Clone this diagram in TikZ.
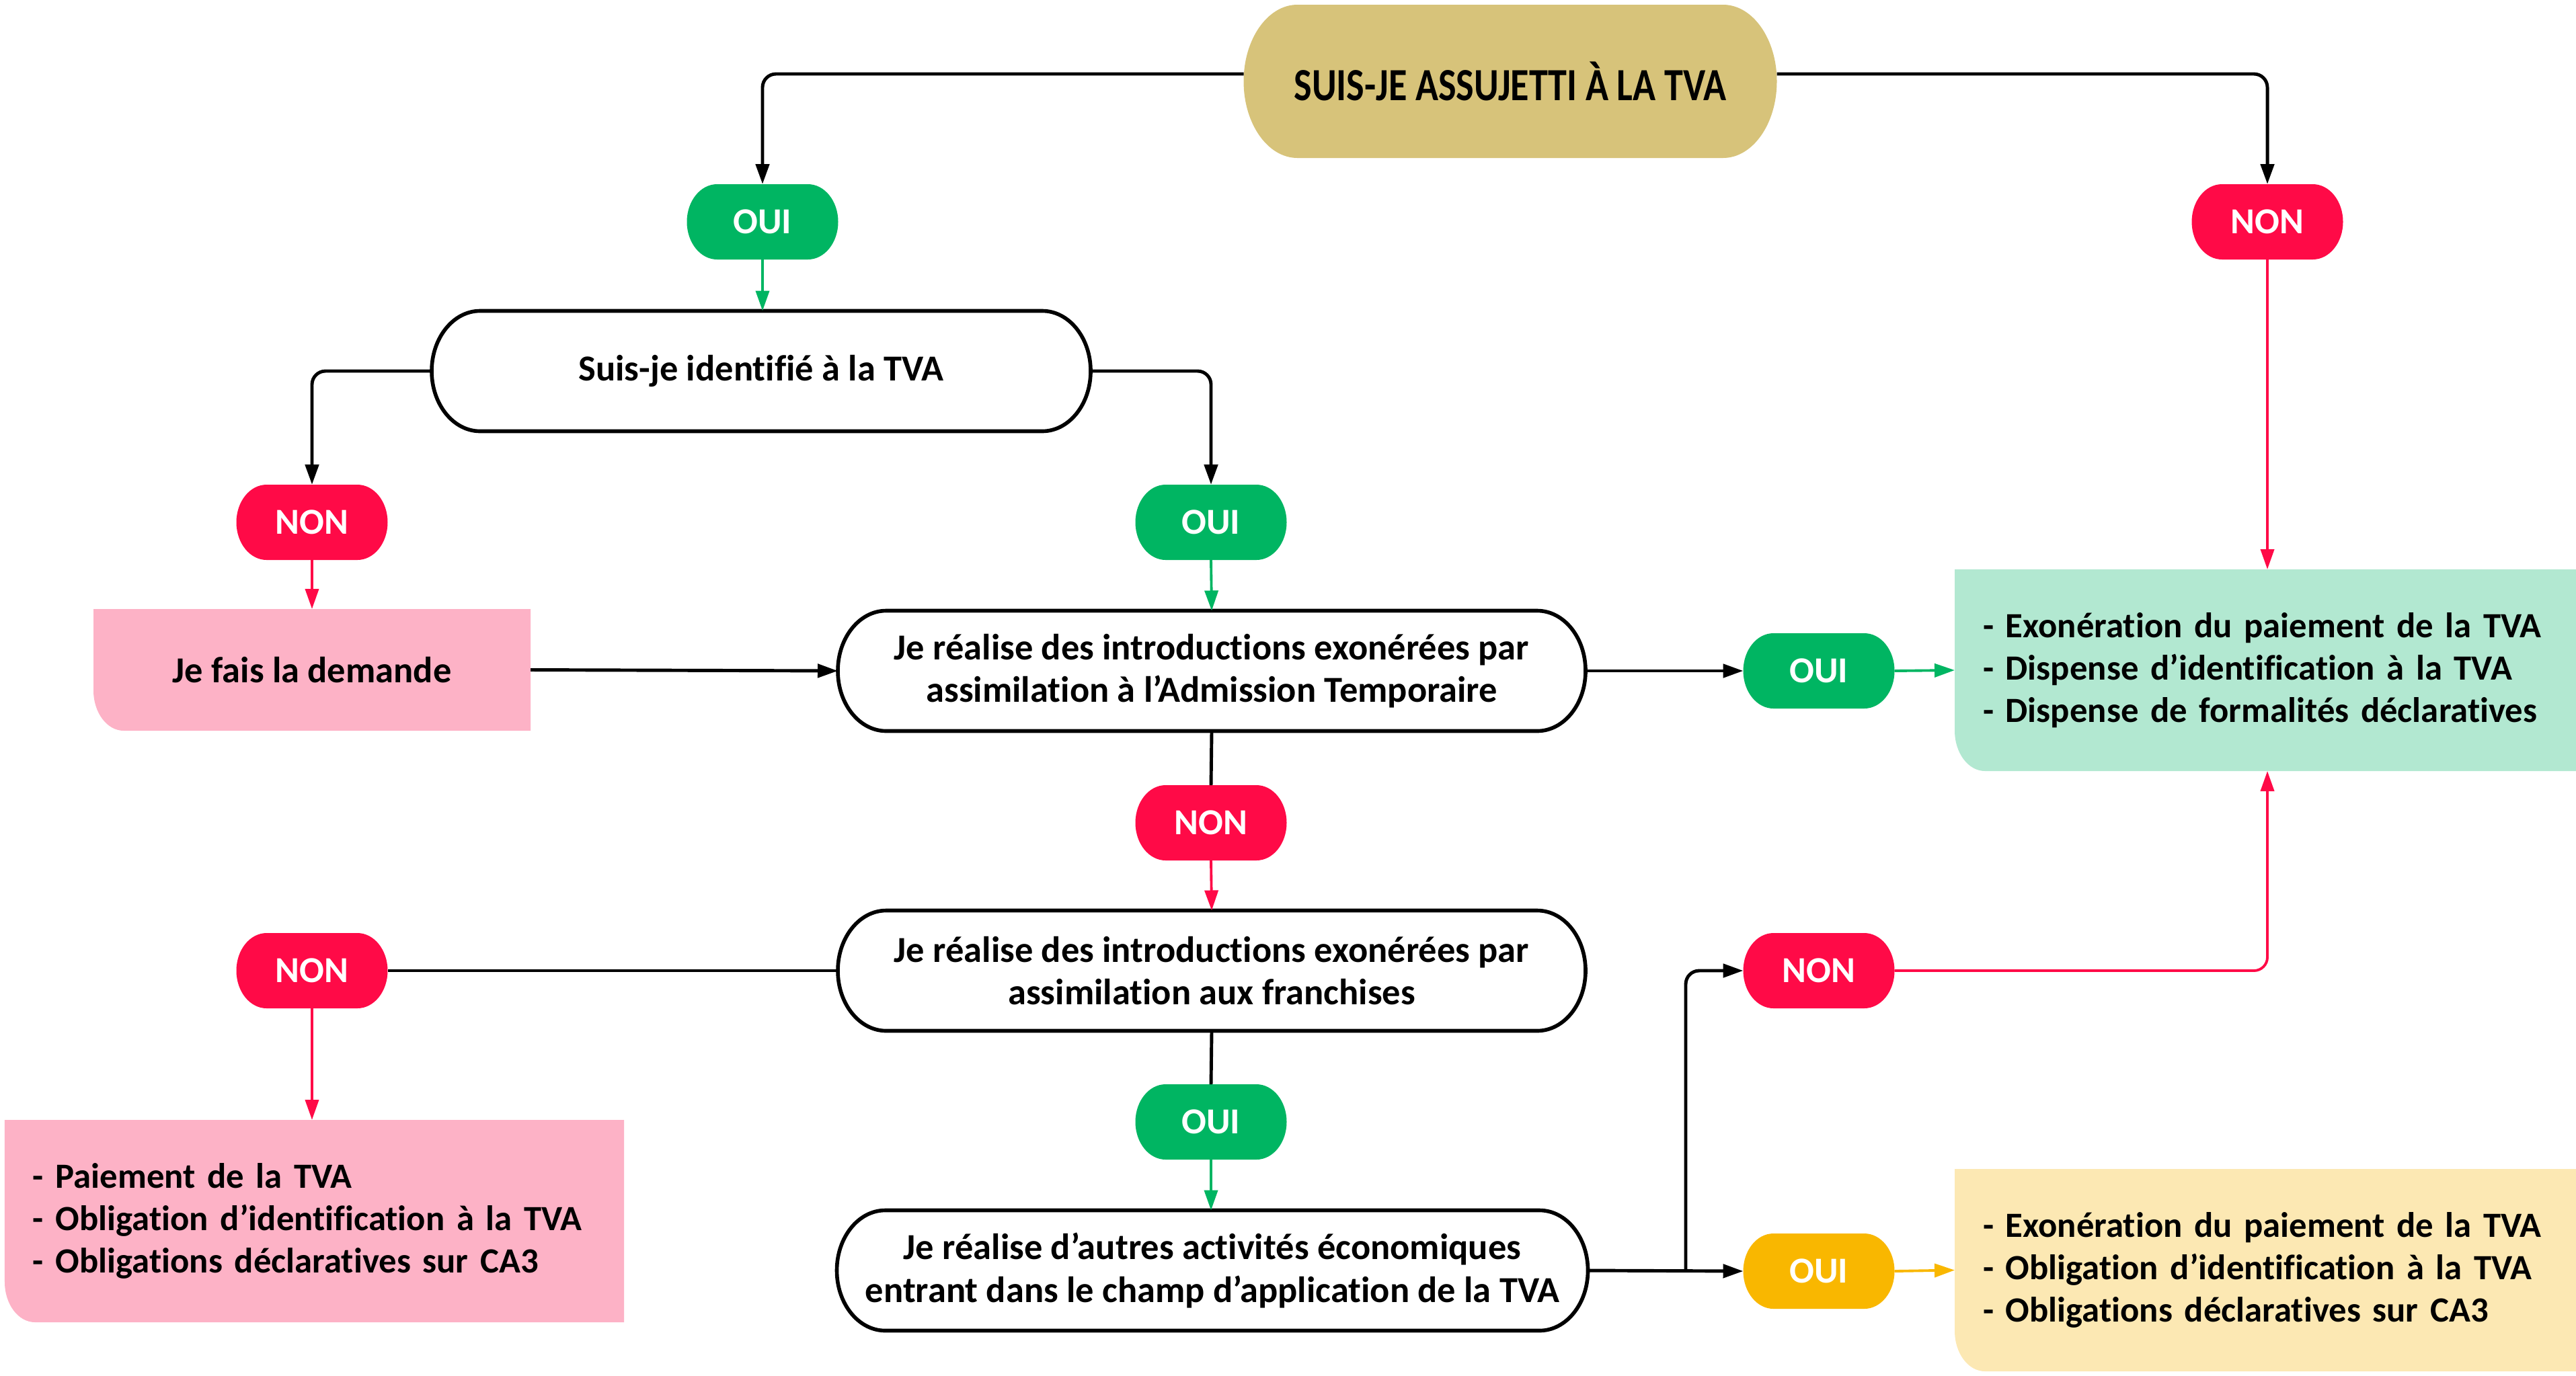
\documentclass[tikz,border=0pt]{standalone}
\usepackage{fontspec}
\setmainfont{Carlito}[Ligatures=NoCommon]
\newfontfamily\condfont{Carlito}[FakeStretch=0.82,Ligatures=NoCommon]
\usetikzlibrary{arrows.meta,calc,backgrounds}

\definecolor{tanbg}{HTML}{D7C37A}
\definecolor{okgreen}{HTML}{00B562}
\definecolor{nored}{HTML}{FF0A47}
\definecolor{pinkbg}{HTML}{FDB2C6}
\definecolor{mintbg}{HTML}{B2E8D1}
\definecolor{amber}{HTML}{F9B700}
\definecolor{creambg}{HTML}{FCE8B3}

% pill outline with elliptical ends around a node: style, node, end radius
\newcommand\pillbg[3]{%
  \path[#1] let \p1=(#2.north east), \p2=(#2.south west), \n1={(\y1-\y2)/2} in
    (\x2+#3,\y1) -- (\x1-#3,\y1)
    arc[start angle=90,end angle=-90,x radius=#3,y radius=\n1]
    -- (\x2+#3,\y2)
    arc[start angle=270,end angle=90,x radius=#3,y radius=\n1] -- cycle;}
% box with only its lower left corner rounded: style, node
\newcommand\cornerbg[2]{%
  \path[#1] let \p1=(#2.north east), \p2=(#2.south west) in
    (\x2,\y1) -- (\x1,\y1) -- (\x1,\y2) -- (\x2+0.45cm,\y2)
    arc[start angle=270,end angle=180,x radius=0.45cm,y radius=0.6cm] -- cycle;}

\tikzset{
  base/.style={font=\fontsize{15.5}{18}\selectfont\bfseries, inner sep=0pt,
    outer sep=0pt, align=center},
  question/.style={base, minimum height=1.79cm},
  badge/.style={base, text=white, minimum width=2.25cm, minimum height=1.12cm},
  listbox/.style={base, font=\fontsize{15}{18}\selectfont\bfseries, align=left,
    inner xsep=0pt, text width=9.2cm, minimum height=3cm,
    execute at begin node={\leftskip=0.42cm\hyphenpenalty=10000\exhyphenpenalty=10000\relax}},
  conn/.style={line width=1.4pt, -{Triangle[length=0.3cm,width=0.2cm]},
    rounded corners=0.2cm},
  plain/.style={line width=1.4pt, rounded corners=0.2cm},
  gconn/.style={conn, line width=1.1pt, okgreen},
  rconn/.style={conn, line width=1.1pt, nored},
  yconn/.style={conn, line width=1.1pt, amber},
  outline/.style={draw=black, line width=1.6pt, fill=white},
}

\begin{document}
\begin{tikzpicture}
\useasboundingbox (0,0) rectangle (38.31,-20.46);

% decision boxes
\node[base, minimum width=7.93cm, minimum height=2.28cm, font=\fontsize{19.5}{22}\selectfont\condfont\bfseries]
  (top) at (22.46,-1.21) {SUIS-JE ASSUJETTI À LA TVA};
\node[question, minimum width=9.80cm] (q2) at (11.32,-5.52) {Suis-je identifié à la TVA};
\node[question, minimum width=11.12cm] (q3) at (18.02,-9.98)
  {Je réalise des introductions exonérées par\\assimilation à l’Admission Temporaire};
\node[question, minimum width=11.12cm] (q4) at (18.02,-14.44)
  {Je réalise des introductions exonérées par\\assimilation aux franchises};
\node[question, minimum width=11.17cm] (q5) at (18.03,-18.90)
  {Je réalise d’autres activités économiques\\entrant dans le champ d’application de la TVA};

% answer badges
\node[badge] (oui1) at (11.34,-3.30) {OUI};
\node[badge] (non1) at (33.72,-3.30) {NON};
\node[badge] (non2) at (4.64,-7.77) {NON};
\node[badge] (oui2) at (18.01,-7.77) {OUI};
\node[badge] (oui3) at (27.05,-9.98) {OUI};
\node[badge] (non3) at (18.01,-12.24) {NON};
\node[badge] (non4) at (4.64,-14.44) {NON};
\node[badge] (non5) at (27.05,-14.44) {NON};
\node[badge] (oui4) at (18.01,-16.69) {OUI};
\node[badge] (oui5) at (27.05,-18.91) {OUI};

% outcomes
\node[base, minimum width=6.50cm, minimum height=1.81cm] (demande) at (4.64,-9.965) {Je fais la demande};
\node[listbox, text width=9.24cm] (mint) at (33.69,-9.97)
  {- Exonération du paiement de la TVA\\- Dispense d’identification à la TVA\\- Dispense de formalités déclaratives};
\node[listbox, text width=9.21cm, minimum height=3.01cm] (pink) at (4.675,-18.165)
  {- Paiement de la TVA\\- Obligation d’identification à la TVA\\- Obligations déclaratives sur CA3};
\node[listbox, text width=9.24cm, minimum height=3.01cm] (cream) at (33.69,-18.895)
  {- Exonération du paiement de la TVA\\- Obligation d’identification à la TVA\\- Obligations déclaratives sur CA3};

\begin{scope}[on background layer]
  \pillbg{fill=tanbg}{top}{0.8cm}
  \pillbg{outline}{q2}{0.72cm}
  \pillbg{outline}{q3}{0.72cm}
  \pillbg{outline}{q4}{0.72cm}
  \pillbg{outline}{q5}{0.72cm}
  \foreach \b in {oui1,oui2,oui3,oui4} {\pillbg{fill=okgreen}{\b}{0.45cm}}
  \foreach \b in {non1,non2,non3,non4,non5} {\pillbg{fill=nored}{\b}{0.45cm}}
  \pillbg{fill=amber}{oui5}{0.45cm}
  \cornerbg{fill=pinkbg}{demande}
  \cornerbg{fill=mintbg}{mint}
  \cornerbg{fill=pinkbg}{pink}
  \cornerbg{fill=creambg}{cream}
\end{scope}

% connectors
\draw[conn] ([yshift=0.11cm]top.west) -| (oui1.north);
\draw[conn] ([yshift=0.11cm]top.east) -| (non1.north);
\draw[gconn] (oui1.south) -- (q2.north -| oui1.south);
\draw[rconn] (non1.south) -- (mint.north -| non1.south);
\draw[conn] (q2.west) -| (non2.north);
\draw[conn] (q2.east) -| (oui2.north);
\draw[rconn] (non2.south) -- (demande.north);
\draw[gconn] (oui2.south) -- (q3.north);
\draw[conn] (demande.east) -- (q3.west);
\draw[conn] (q3.east) -- (oui3.west);
\draw[gconn] (oui3.east) -- (mint.west);
\draw[plain] (q3.south) -- (non3.north);
\draw[rconn] (non3.south) -- (q4.north);
\draw[plain] (q4.west) -- (non4.east);
\draw[rconn] (non4.south) -- (pink.north -| non4.south);
\draw[plain] (q4.south) -- (oui4.north);
\draw[gconn] (oui4.south) -- (q5.north -| oui4.south);
\draw[conn] (q5.east) -- (oui5.west);
\path (q5.east) ++(1.455,0) coordinate (split);
\draw[conn] (split) |- (non5.west);
\draw[yconn] (oui5.east) -- (cream.west);
\draw[rconn] (non5.east) -| (mint.south -| non1.south);
\end{tikzpicture}
\end{document}
